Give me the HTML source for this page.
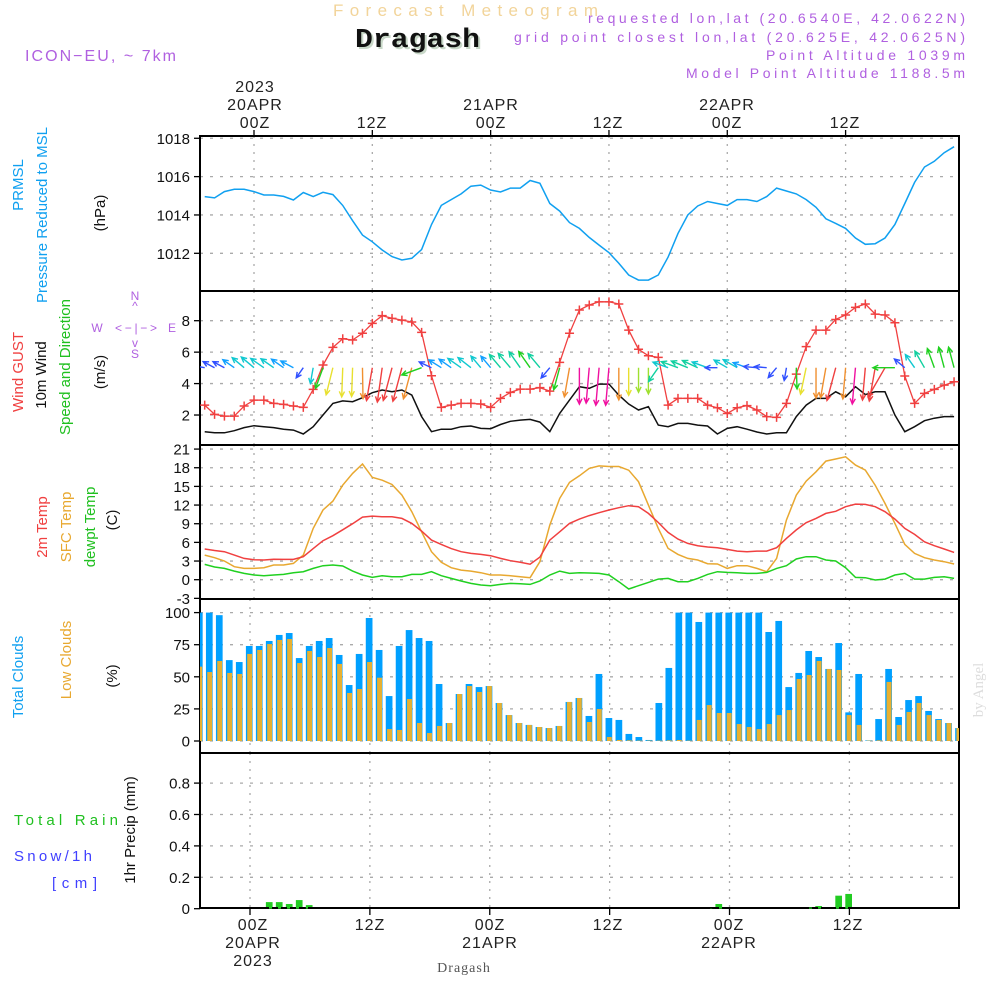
<!DOCTYPE html>
<html><head><meta charset="utf-8"><style>
html,body{margin:0;padding:0;background:#fff}
svg{display:block}
text{font-family:"Liberation Sans",sans-serif}
</style></head><body>
<svg id="chart" width="1000" height="1000" viewBox="0 0 1000 1000" xmlns="http://www.w3.org/2000/svg">
<defs>
<clipPath id="clipU"><rect x="200" y="136" width="759" height="770"/></clipPath>
<clipPath id="clipL"><rect x="200" y="600" width="759" height="308"/></clipPath>
</defs>
<!-- header -->
<text x="333" y="16" font-size="17" fill="#f2d49a" textLength="265" lengthAdjust="spacing">Forecast Meteogram</text>
<text x="357" y="49" font-size="27" font-weight="bold" fill="#c8d8c8" style="font-family:'Liberation Mono',monospace" textLength="125" lengthAdjust="spacingAndGlyphs">Dragash</text>
<text x="355" y="47" font-size="27" font-weight="bold" fill="#111" style="font-family:'Liberation Mono',monospace" textLength="125" lengthAdjust="spacingAndGlyphs">Dragash</text>
<text x="25" y="61" font-size="16" fill="#b060e0" textLength="151" lengthAdjust="spacing">ICON−EU, ~ 7km</text>
<g fill="#b060e0" font-size="14">
<text x="588" y="23" textLength="377" lengthAdjust="spacing">requested lon,lat (20.6540E, 42.0622N)</text>
<text x="514" y="42" textLength="451" lengthAdjust="spacing">grid point closest lon,lat (20.625E, 42.0625N)</text>
<text x="766" y="60" textLength="199" lengthAdjust="spacing">Point Altitude 1039m</text>
<text x="686" y="78" textLength="279" lengthAdjust="spacing">Model Point Altitude 1188.5m</text>
</g>
<!-- top time labels -->
<g fill="#222" font-size="16" text-anchor="middle" letter-spacing="1">
<text x="255" y="92">2023</text>
<text x="255" y="110">20APR</text>
<text x="255" y="128">00Z</text>
<text x="372" y="128">12Z</text>
<text x="491" y="110">21APR</text>
<text x="491" y="128">00Z</text>
<text x="608" y="128">12Z</text>
<text x="727" y="110">22APR</text>
<text x="727" y="128">00Z</text>
<text x="845" y="128">12Z</text>
</g>
<!-- bottom time labels -->
<g fill="#222" font-size="16" text-anchor="middle" letter-spacing="1">
<text x="253" y="930">00Z</text>
<text x="253" y="948">20APR</text>
<text x="253" y="966">2023</text>
<text x="370" y="930">12Z</text>
<text x="490" y="930">00Z</text>
<text x="490" y="948">21APR</text>
<text x="608" y="930">12Z</text>
<text x="729" y="930">00Z</text>
<text x="729" y="948">22APR</text>
<text x="848" y="930">12Z</text>
</g>
<text x="464" y="972" text-anchor="middle" font-size="14" fill="#555" style="font-family:'Liberation Serif',serif" letter-spacing="1">Dragash</text>
<text transform="translate(983,690) rotate(-90)" text-anchor="middle" font-size="15" fill="#ddd" style="font-family:'Liberation Serif',serif">by Angel</text>
<!-- axis titles -->
<g font-size="15" text-anchor="middle">
<text transform="translate(23,185) rotate(-90)" fill="#10a0f0">PRMSL</text>
<text transform="translate(47,215) rotate(-90)" fill="#10a0f0">Pressure Reduced to MSL</text>
<text transform="translate(105,213) rotate(-90)" fill="#111">(hPa)</text>
<text transform="translate(23,372) rotate(-90)" fill="#f04040">Wind GUST</text>
<text transform="translate(46,375) rotate(-90)" fill="#111">10m Wind</text>
<text transform="translate(70,367) rotate(-90)" fill="#20c020">Speed and Direction</text>
<text transform="translate(105,372) rotate(-90)" fill="#111">(m/s)</text>
<text transform="translate(47,527) rotate(-90)" fill="#f04040">2m Temp</text>
<text transform="translate(71,527) rotate(-90)" fill="#e8a830">SFC Temp</text>
<text transform="translate(95,527) rotate(-90)" fill="#20c020">dewpt Temp</text>
<text transform="translate(117,520) rotate(-90)" fill="#111">(C)</text>
<text transform="translate(23,677) rotate(-90)" fill="#10a0f0">Total Clouds</text>
<text transform="translate(71,660) rotate(-90)" fill="#e8a830">Low Clouds</text>
<text transform="translate(117,676) rotate(-90)" fill="#111">(%)</text>
<text transform="translate(135,830) rotate(-90)" fill="#111">1hr Precip (mm)</text>
</g>
<g font-size="15">
<text x="14" y="825" fill="#20c020" textLength="104" lengthAdjust="spacing">Total  Rain</text>
<text x="14" y="861" fill="#4040ff" textLength="78" lengthAdjust="spacing">Snow/1h</text>
<text x="52" y="888" fill="#4040ff" textLength="45" lengthAdjust="spacing">[cm]</text>
</g>
<!-- compass -->
<g fill="#b060e0" font-size="12" text-anchor="middle">
<text x="135" y="300">N</text><text x="135" y="310">^</text>
<text x="97" y="332">W</text><text x="115" y="332" text-anchor="start" textLength="42" lengthAdjust="spacing">&lt;−|−&gt;</text><text x="172" y="332">E</text>
<text x="135" y="347">v</text><text x="135" y="358">S</text>
</g>
<g id="layer"></g>
</svg>
<script>
const startHour = -5;
const pressure = [1014.96,1014.89,1015.22,1015.34,1015.34,1015.22,1015.04,1015.04,1014.97,1014.78,1015.17,1014.96,1015.18,1015.06,1014.5,1013.7,1012.95,1012.6,1012.17,1011.83,1011.65,1011.74,1012.2,1013.5,1014.5,1014.8,1015.1,1015.5,1015.56,1015.3,1015.2,1015.4,1015.4,1015.8,1015.65,1014.6,1014.2,1013.6,1013.3,1012.83,
1012.43,1012.03,1011.48,1010.87,1010.6,1010.6,1010.87,1011.8,1013.04,1014.0,1014.47,1014.7,1014.6,1014.5,1014.8,1014.8,1014.7,1014.96,1015.4,1015.25,1015.1,1014.8,1014.4,1013.8,1013.56,1013.3,1012.8,1012.47,1012.5,1012.8,1013.5,1014.6,1015.7,1016.5,1016.8,1017.25,1017.56];
const gust = [2.63,2.04,1.93,1.93,2.57,2.95,2.95,2.74,2.68,2.57,2.49,3.63,5.18,6.3,6.85,6.77,7.2,7.83,8.32,8.15,8.04,7.92,7.26,4.5,2.49,2.63,2.74,2.74,2.7,2.49,3.06,3.44,3.65,3.65,3.74,3.52,5.35,7.2,8.68,9.0,
9.2,9.2,9.06,7.4,6.18,5.77,5.67,2.63,3.06,3.06,3.06,2.63,2.46,2.1,2.46,2.6,2.32,1.9,1.85,2.74,4.6,6.35,7.4,7.4,8.08,8.36,8.85,9.06,8.42,8.36,7.87,4.48,2.74,3.38,3.63,3.9,4.12];
const wind10 = [0.94,0.87,0.87,1.0,1.2,1.32,1.26,1.2,1.1,1.04,0.79,1.26,2.0,2.74,2.9,2.85,3.1,3.42,3.59,3.48,3.59,3.27,1.9,0.94,1.1,1.1,1.26,1.3,1.15,1.13,1.4,1.6,1.68,1.72,1.55,0.94,2.1,2.95,3.8,3.7,
3.97,3.97,3.27,2.7,2.32,2.53,1.36,1.26,1.47,1.47,1.36,1.3,0.79,1.15,1.26,1.1,0.92,0.79,0.87,0.87,1.9,2.63,3.06,3.06,3.48,3.16,3.8,3.3,3.48,3.48,2.0,0.94,1.26,1.64,1.8,1.9,1.9];
const windDir = [100,118,118,125,130,130,125,125,125,118,35,10,20,14,2,2,359,10,8,15,15,15,70,115,122,125,125,128,140,140,140,140,145,145,140,40,15,10,0,5,
5,5,0,0,0,0,35,110,110,112,115,110,90,120,120,110,95,95,40,10,358,12,0,10,15,5,5,5,10,30,90,130,145,150,160,165,165];
const temp2m = [4.93,4.7,4.5,3.96,3.43,3.2,3.16,3.3,3.27,3.27,3.7,5.0,6.27,7.07,8.03,9.0,10.07,10.23,10.12,10.12,9.86,9.05,7.82,6.37,5.68,5.0,4.5,4.23,4.07,3.86,3.43,3.05,2.8,2.5,3.64,6.37,7.7,9.05,9.75,10.3,
10.77,11.2,11.57,11.9,11.73,10.66,9.2,7.6,6.53,5.84,5.46,5.25,5.14,4.87,4.6,4.5,4.6,4.6,5.14,6.64,8.0,9.16,9.86,10.66,11.0,11.73,12.16,12.1,11.73,10.93,9.75,8.25,7.28,6.1,5.46,4.93,4.39];
const sfcTemp = [3.96,3.54,3.0,2.09,1.82,1.82,1.93,2.36,2.36,2.62,3.96,8.25,11.2,12.64,15.2,17.09,18.6,16.44,16.0,15.3,13.6,10.93,7.7,4.5,2.8,1.93,1.55,1.39,1.12,0.75,0.75,0.64,0.48,0.32,2.9,8.78,13.07,15.64,16.7,17.9,
18.3,18.2,18.2,17.6,15.75,12.0,8.25,5.03,4.07,3.43,3.16,2.57,2.52,1.82,2.25,2.25,1.82,1.29,3.43,9.59,13.6,15.85,17.35,19.07,19.4,19.76,18.43,17.62,15.2,12.27,9.05,5.68,4.23,3.54,3.16,2.9,2.52];
const dewpt = [2.46,2.04,1.82,1.39,1.02,0.75,0.64,0.75,0.86,1.12,1.29,1.82,2.25,2.36,2.2,1.39,0.75,0.37,0.64,0.48,0.48,0.86,0.86,1.29,0.64,0.21,-0.21,-0.59,-0.86,-0.96,-0.75,-0.59,-0.64,-0.75,-0.21,0.75,1.39,1.02,1.12,1.07,
1.02,0.75,-0.32,-1.5,-0.96,-0.43,0.1,0.21,-0.32,-0.32,0.21,0.86,1.29,1.18,1.12,1.02,1.02,1.18,1.82,2.25,3.32,3.7,3.7,3.16,3.0,1.93,0.37,0.32,-0.05,0.1,0.75,1.02,0.1,0.1,0.37,0.48,0.21];
const totalClouds = [100,100,98,63,61.5,74,74,77.9,82.6,84.1,64.6,74,77.9,80.2,67,43.6,67.8,95.8,70.9,35,74,86.4,80.2,77.9,44.4,14,36.6,44.4,42,42.8,29.6,20.2,14,12.5,10.9,10.1,11.7,30.4,33.5,19.5,
52.2,17.9,16.4,5.5,3.1,0.8,29.6,56.9,100,100,92.7,100,100,100,100,100,100,84.9,93.5,42,53,70.1,65.4,56.1,76.3,22.3,52.2,0.5,17.1,56.1,18.7,31.9,35,23.4,17.1,14,10.1];
const lowClouds = [57.9,53.7,62.3,53,52.2,67.8,70.9,75.5,78.7,79.4,60.7,70.1,65.4,72.4,60,37.4,40.5,61.5,49.3,9.3,8.6,32.7,14,6.2,11.7,14,36.6,42.8,38.2,42.8,29.6,20.2,14,12.5,10.9,10.1,11.7,30.4,33.5,14.8,
24.9,3.1,0.8,0.5,0.3,0.3,0.3,0.5,0.8,0.3,16.4,28,21.8,21.8,13.2,10.9,9.3,13.2,20.2,24.1,48.3,51.4,62.3,56.1,55.3,20.2,12.5,0.3,0.5,46,12.5,22.6,29.6,20.2,16.4,14,10.1];
const rainHours = [2,3,4,5,6,46,47,56,57,59,60];
const rainValues = [0.042,0.042,0.03,0.055,0.023,0.002,0.03,0.008,0.017,0.083,0.094];
const pTicks = [1012,1014,1016,1018];
const wTicks = [2,4,6,8];
const tTicks = [-3,0,3,6,9,12,15,18,21];
const cTicks = [0,25,50,75,100];
const rTicks = [0,0.2,0.4,0.6,0.8];
const gridHours = [0,12,24,36,48,60];

const NS='http://www.w3.org/2000/svg';
const layer=document.getElementById('layer');
function mk(tag,attrs,parent){const e=document.createElementNS(NS,tag);for(const k in attrs)e.setAttribute(k,attrs[k]);(parent||layer).appendChild(e);return e;}
const xu=h=>254+9.86*h;
const xl=h=>250+9.99*h;
const yP=v=>253.3-(v-1012)*19.17;
const yW=v=>320.7-(v-8)*15.72;
const yT=v=>579.7-v*6.22;
const yC=v=>741-v*1.284;
const yR=v=>908.7-v*157;
const panels=[{y0:136,y1:291,ticks:pTicks,fy:yP,xf:xu,name:'pressure'},{y0:291,y1:445,ticks:wTicks,fy:yW,xf:xu,name:'wind'},{y0:445,y1:599,ticks:tTicks,fy:yT,xf:xu,name:'temp'},{y0:599,y1:753,ticks:cTicks,fy:yC,xf:xl,name:'clouds'},{y0:753,y1:908,ticks:rTicks,fy:yR,xf:xl,name:'precip'}];
panels.forEach(p=>{
  const g=mk('g',{});
  
  
  p.ticks.forEach(t=>{const y=p.fy(t);
    if(y>p.y0+2&&y<p.y1-1) mk('line',{x1:200,x2:959,y1:y,y2:y,stroke:'#aaa','stroke-width':1.3,'stroke-dasharray':'3,7'},g);
    mk('line',{x1:194,x2:200,y1:y,y2:y,stroke:'#000','stroke-width':1.3},g);
    const tx=mk('text',{x:190,y:y+5.5,'text-anchor':'end','font-size':15,fill:'#111'},g);
    tx.textContent=(p.name==='precip'&&t!==0)?t.toFixed(1):String(t);
  });
  gridHours.forEach(h=>{const x=p.xf(h);mk('line',{x1:x,x2:x,y1:p.y0,y2:p.y1,stroke:'#aaa','stroke-width':1.3,'stroke-dasharray':'2,6'},g);});
  const f=mk('rect',{x:200,y:p.y0,width:759,height:p.y1-p.y0,fill:'none',stroke:'#000','stroke-width':2});
  
  
});
gridHours.forEach(h=>{mk('line',{x1:xu(h),x2:xu(h),y1:130,y2:136,stroke:'#000','stroke-width':1.3});mk('line',{x1:xl(h),x2:xl(h),y1:908,y2:915,stroke:'#000','stroke-width':1.3});});

function line(arr,xf,yf,color,name,w){
  const pts=arr.map((v,i)=>xf(startHour+i).toFixed(1)+','+yf(v).toFixed(1)).join(' ');
  const e=mk('polyline',{points:pts,fill:'none',stroke:color,'stroke-width':w||1.5,'clip-path':'url(#clipU)'});
  
  
  return e;
}
line(pressure,xu,yP,'#10a0f0','pressure-line');
line(wind10,xu,yW,'#111','wind-speed-line');
line(gust,xu,yW,'#f04040','wind-gust-line',1.3);
gust.forEach((v,i)=>{const x=xu(startHour+i),y=yW(v);
  const m=mk('path',{d:`M${x-4.5},${y}H${x+4.5}M${x},${y-4.5}V${y+4.5}`,stroke:'#f04040','stroke-width':1.5,'clip-path':'url(#clipU)'});
  
  
});
function spdColor(s){
  if(s<0.95)return '#3050ff';if(s<1.15)return '#10a0ff';if(s<1.35)return '#10c8d0';if(s<1.7)return '#10d0a0';
  if(s<2.3)return '#20d020';if(s<2.6)return '#a0e030';if(s<2.95)return '#e8e030';if(s<3.3)return '#f09030';if(s<3.7)return '#f04040';return '#f010a0';
}
windDir.forEach((d,i)=>{
  const s=wind10[i],x=xu(startHour+i),y=367.7,L=6+8*s,r=d*Math.PI/180;
  const dx=-Math.sin(r),dy=Math.cos(r);
  const tx=x+dx*L,ty=y+dy*L;
  const hl=6,a=0.45;
  const bx=-dx,by=-dy;
  const h1x=tx+hl*(bx*Math.cos(a)-by*Math.sin(a)),h1y=ty+hl*(bx*Math.sin(a)+by*Math.cos(a));
  const h2x=tx+hl*(bx*Math.cos(-a)-by*Math.sin(-a)),h2y=ty+hl*(bx*Math.sin(-a)+by*Math.cos(-a));
  const c=spdColor(s);
  const e=mk('path',{d:`M${x},${y}L${tx},${ty}M${h1x},${h1y}L${tx},${ty}L${h2x},${h2y}`,stroke:c,'stroke-width':1.4,fill:'none','clip-path':'url(#clipU)'});
  
  
});
line(sfcTemp,xu,yT,'#e8a830','sfc-temp-line');
line(temp2m,xu,yT,'#f04040','temp-2m-line');
line(dewpt,xu,yT,'#20d020','dewpoint-line');
totalClouds.forEach((v,i)=>{const x=xl(startHour+i)-0.7;
  const b=mk('rect',{x:x-3.4,y:yC(v),width:6.7,height:yC(0)-yC(v),fill:'#00a0ff','clip-path':'url(#clipL)'});
  
  
  const o=mk('rect',{x:x-2.1,y:yC(lowClouds[i]),width:4.9,height:yC(0)-yC(lowClouds[i]),fill:'#e8b030','clip-path':'url(#clipL)'});
  
  
});
rainHours.forEach((h,i)=>{const x=xl(h)-0.7,v=rainValues[i];
  const b=mk('rect',{x:x-3.4,y:yR(v),width:6.7,height:yR(0)-yR(v),fill:'#22cc22'});
  
  
});
const zl=mk('line',{x1:200,x2:959,y1:908,y2:908,stroke:'#000','stroke-width':2,'stroke-dasharray':'6,3'});


</script>
</body></html>
